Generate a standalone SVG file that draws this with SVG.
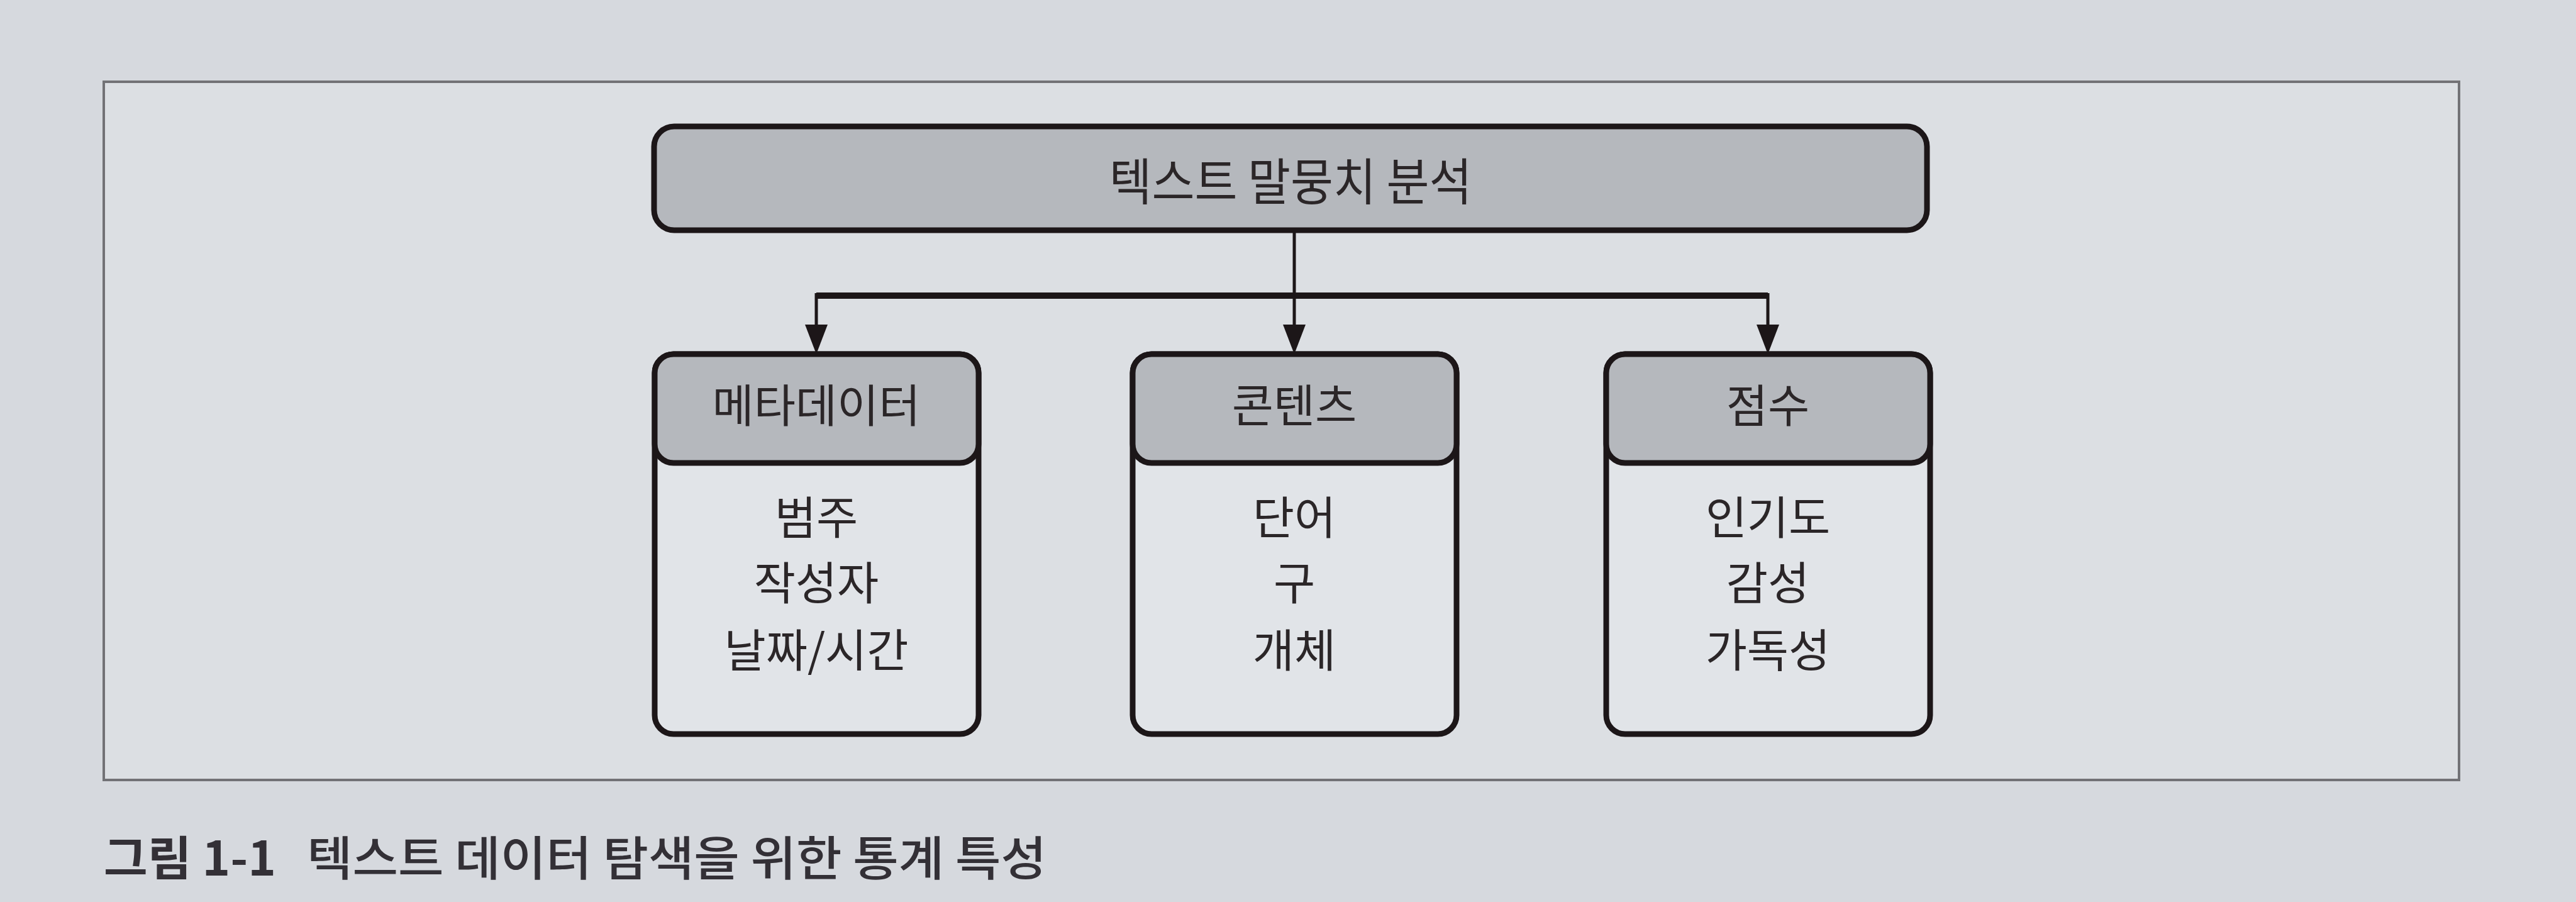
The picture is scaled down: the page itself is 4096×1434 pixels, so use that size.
<svg xmlns="http://www.w3.org/2000/svg" width="4096" height="1434" viewBox="0 0 4096 1434">
  <defs>
    <style>
      .t { font-family: "Noto Sans CJK KR", "Noto Sans", sans-serif; fill: #2b2628; text-anchor: middle; font-size: 72px; }
      .box { stroke: #1c1618; stroke-width: 9; }
      .shade { fill: #b5b8bd; }
      .body { fill: #e1e4e8; }
      .wire { stroke: #1c1618; fill: none; }
      .head { fill: #1c1618; }
      .cap { font-family: "Noto Sans CJK KR", "Noto Sans", sans-serif; fill: #333036; font-size: 75px; }
    </style>
  </defs>
  <rect x="0" y="0" width="4096" height="1434" fill="#d6d9de"/>
  <rect id="frame" x="165" y="130" width="3745" height="1110" fill="#dcdfe3" stroke="#727276" stroke-width="4"/>

  <g id="connectors">
    <line class="wire" x1="2058" y1="366" x2="2058" y2="520" stroke-width="5"/>
    <polyline class="wire" points="1298,470 2811,470" stroke-width="10"/>
    <line class="wire" x1="1298" y1="466" x2="1298" y2="520" stroke-width="5"/>
    <line class="wire" x1="2811" y1="466" x2="2811" y2="520" stroke-width="5"/>
    <polygon class="head" points="1280,516 1316,516 1298,563"/>
    <polygon class="head" points="2040,516 2076,516 2058,563"/>
    <polygon class="head" points="2793,516 2829,516 2811,563"/>
  </g>

  <g id="root">
    <rect class="box shade" x="1040" y="201" width="2024" height="165" rx="32" stroke-width="11"/>
    <text class="t" x="2052" y="318" style="font-size:80px" textLength="577" lengthAdjust="spacingAndGlyphs">텍스트 말뭉치 분석</text>
  </g>

  <g id="metadata">
    <rect class="box body" x="1041" y="563" width="515" height="604" rx="30"/>
    <rect class="box shade" x="1041" y="563" width="515" height="173" rx="30"/>
    <text class="t" x="1298" y="671">메타데이터</text>
    <text class="t" x="1298" y="849">범주</text>
    <text class="t" x="1298" y="953">작성자</text>
    <text class="t" x="1298" y="1060">날짜/시간</text>
  </g>

  <g id="contents">
    <rect class="box body" x="1801" y="563" width="515" height="604" rx="30"/>
    <rect class="box shade" x="1801" y="563" width="515" height="173" rx="30"/>
    <text class="t" x="2058" y="671">콘텐츠</text>
    <text class="t" x="2058" y="849">단어</text>
    <text class="t" x="2058" y="953">구</text>
    <text class="t" x="2058" y="1060">개체</text>
  </g>

  <g id="score">
    <rect class="box body" x="2554" y="563" width="515" height="604" rx="30"/>
    <rect class="box shade" x="2554" y="563" width="515" height="173" rx="30"/>
    <text class="t" x="2811" y="671">점수</text>
    <text class="t" x="2811" y="849">인기도</text>
    <text class="t" x="2811" y="953">감성</text>
    <text class="t" x="2811" y="1060">가독성</text>
  </g>

  <g id="caption">
    <text class="cap" x="165" y="1392" font-weight="700" textLength="274" lengthAdjust="spacingAndGlyphs">그림 1-1</text>
    <text class="cap" x="488" y="1392" font-weight="500" textLength="1176" lengthAdjust="spacingAndGlyphs">텍스트 데이터 탐색을 위한 통계 특성</text>
  </g>
</svg>
